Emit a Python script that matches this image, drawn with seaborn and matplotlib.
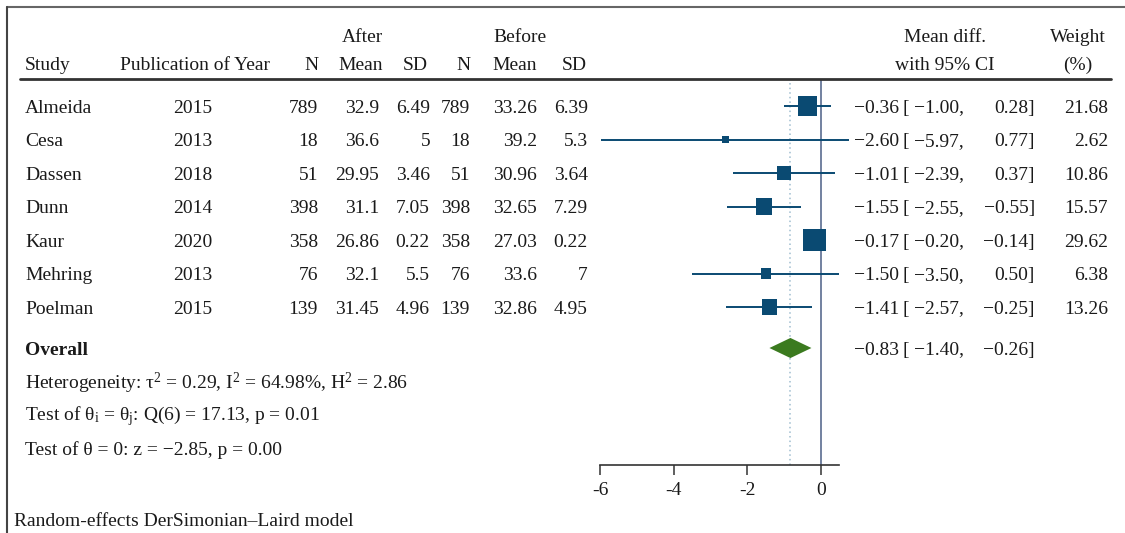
import matplotlib
matplotlib.use("Agg")
import matplotlib.pyplot as plt
from matplotlib.lines import Line2D
from matplotlib.transforms import blended_transform_factory
import seaborn as sns
import pandas as pd

# ---------------- data ----------------
studies = ["Almeida", "Cesa", "Dassen", "Dunn", "Kaur", "Mehring", "Poelman"]
years = [2015, 2013, 2018, 2014, 2020, 2013, 2015]
n_after = [789, 18, 51, 398, 358, 76, 139]
mean_after = [32.9, 36.6, 29.95, 31.1, 26.86, 32.1, 31.45]
sd_after = [6.49, 5, 3.46, 7.05, 0.22, 5.5, 4.96]
n_before = [789, 18, 51, 398, 358, 76, 139]
mean_before = [33.26, 39.2, 30.96, 32.65, 27.03, 33.6, 32.86]
sd_before = [6.39, 5.3, 3.64, 7.29, 0.22, 7, 4.95]
mean_diff = [-0.36, -2.60, -1.01, -1.55, -0.17, -1.50, -1.41]
ci_low = [-1.00, -5.97, -2.39, -2.55, -0.20, -3.50, -2.57]
ci_high = [0.28, 0.77, 0.37, -0.55, -0.14, 0.50, -0.25]
weights = [21.68, 2.62, 10.86, 15.57, 29.62, 6.38, 13.26]
overall_est, overall_low, overall_high = -0.83, -1.40, -0.26
x_ticks = [-6, -4, -2, 0]
x_tick_labels = ["-6", "-4", "-2", "0"]
heterogeneity = r"Heterogeneity: τ$^{2}$ = 0.29, I$^{2}$ = 64.98%, H$^{2}$ = 2.86"
test_hom = r"Test of θ$_{\mathrm{i}}$ = θ$_{\mathrm{j}}$: Q(6) = 17.13, p = 0.01"
test_zero = "Test of θ = 0: z = −2.85, p = 0.00"
footnote = "Random-effects DerSimonian–Laird model"

# ---------------- style ----------------
sns.set_theme(style="white")
plt.rcParams["font.family"] = ["Liberation Serif", "DejaVu Serif"]
plt.rcParams["mathtext.fontset"] = "custom"
plt.rcParams["mathtext.rm"] = "Liberation Serif"
plt.rcParams["mathtext.it"] = "Liberation Serif:italic"
plt.rcParams["mathtext.bf"] = "Liberation Serif:bold"
plt.rcParams["axes.unicode_minus"] = False

W, H = 1125, 533
FS = 14
BLUE = "#0a4a72"
GREEN = "#3b7a1f"
TXT = "#1a1a1a"
DY = 0.06  # small downward nudge for row text (in row units)

fig = plt.figure(figsize=(W / 100, H / 100), dpi=100)
fig.patch.set_facecolor("white")

# forest axes placed by pixel extents
ax_l, ax_r, ax_t, ax_b = 580, 860, 80, 465
ax = fig.add_axes([ax_l / W, 1 - ax_b / H, (ax_r - ax_l) / W, (ax_b - ax_t) / H])
ppu = (821 - 600) / 6.0  # pixels per unit
x0_px = 821
ax.set_xlim((ax_l - x0_px) / ppu, (ax_r - x0_px) / ppu)
row_px = 33.5
y_first = 106
ax.set_ylim(1 + (ax_b - y_first) / row_px, 1 + (ax_t - y_first) / row_px)
ax.patch.set_alpha(0)

rows = list(range(1, len(studies) + 1))
overall_y = 1 + (348 - y_first) / row_px

df = pd.DataFrame({"study": studies, "row": rows, "md": mean_diff,
                   "lo": ci_low, "hi": ci_high, "w": weights})

# reference lines
ax.axvline(0, color="#4b5f86", lw=1.1, zorder=1)
ax.axvline(overall_est, color="#9fbdd0", lw=1.1, ls=(0, (1, 2)), zorder=1)

# CIs
ax.hlines(df["row"], df["lo"], df["hi"], color=BLUE, lw=1.4, zorder=2)

# squares (area proportional to weight)
k = 8.9
sns.scatterplot(data=df, x="md", y="row", size="w",
                sizes=(k * min(weights), k * max(weights)),
                marker="s", color=BLUE, linewidth=0, legend=False, ax=ax, zorder=3)

# overall diamond
dh = 0.30
ax.fill([overall_low, overall_est, overall_high, overall_est],
        [overall_y, overall_y - dh, overall_y, overall_y + dh],
        color=GREEN, lw=0, zorder=3)

# axis styling
for s in ["top", "right", "left"]:
    ax.spines[s].set_visible(False)
ax.spines["bottom"].set_color("#333333")
ax.spines["bottom"].set_linewidth(1.2)
ax.spines["bottom"].set_bounds(-6, (839 - x0_px) / ppu)
ax.set_xticks(x_ticks)
ax.set_xticklabels(x_tick_labels)
ax.set_yticks([])
ax.tick_params(axis="x", direction="out", length=7, width=1.1, color="#333333",
               labelsize=FS, pad=5, labelcolor=TXT, bottom=True)
ax.set_xlabel("")
ax.set_ylabel("")

# ---------------- table text ----------------
tr = blended_transform_factory(fig.transFigure, ax.transData)


def fx(px):
    return px / W


def fy(px):
    return 1 - px / H


def num(v, fmt="{:g}"):
    return fmt.format(v).replace("-", "−")


def cell(x, y, s, ha="left", **kw):
    ax.text(fx(x), y + DY, s, transform=tr, ha=ha, va="center", fontsize=FS,
            color=TXT, clip_on=False, **kw)


def head(x, y, s, ha="center", **kw):
    fig.text(fx(x), fy(y), s, ha=ha, va="center", fontsize=FS, color=TXT, **kw)


def ci_cells(y, est, lo, hi):
    cell(899, y, num(est, "{:.2f}"), ha="right")
    cell(902, y, "[")
    cell(964, y, num(lo, "{:.2f}") + ",", ha="right")
    cell(1035, y, num(hi, "{:.2f}") + "]", ha="right")


# headers
head(362, 38, "After")
head(520, 38, "Before")
head(945, 38, "Mean diff.")
head(1078, 38, "Weight")
head(25, 65, "Study", ha="left")
head(195, 65, "Publication of Year")
head(311, 65, "N")
head(361, 65, "Mean")
head(415, 65, "SD")
head(463, 65, "N")
head(515, 65, "Mean")
head(574, 65, "SD")
head(945, 65, "with 95% CI")
head(1078, 65, "(%)")

# header rule
fig.add_artist(Line2D([fx(20), fx(1111)], [fy(79), fy(79)], color="#333333", lw=2))

for i, r in enumerate(rows):
    cell(25, r, studies[i])
    cell(193, r, str(years[i]), ha="center")
    cell(318, r, str(n_after[i]), ha="right")
    cell(379, r, num(mean_after[i]), ha="right")
    cell(430, r, num(sd_after[i]), ha="right")
    cell(470, r, str(n_before[i]), ha="right")
    cell(537, r, num(mean_before[i]), ha="right")
    cell(588, r, num(sd_before[i]), ha="right")
    ci_cells(r, mean_diff[i], ci_low[i], ci_high[i])
    cell(1108, r, num(weights[i], "{:.2f}"), ha="right")

cell(25, overall_y, "Overall", fontweight="bold")
ci_cells(overall_y, overall_est, overall_low, overall_high)

head(25, 383, heterogeneity, ha="left")
head(25, 416, test_hom, ha="left")
head(25, 450, test_zero, ha="left")
head(14, 521, footnote, ha="left")

# outer frame (top and left edges)
fig.add_artist(Line2D([fx(7), 1], [fy(7), fy(7)], color="#666666", lw=1.5))
fig.add_artist(Line2D([fx(7), fx(7)], [0, fy(7)], color="#444444", lw=1.5))

fig.savefig("out.png", dpi=100, facecolor="white")
